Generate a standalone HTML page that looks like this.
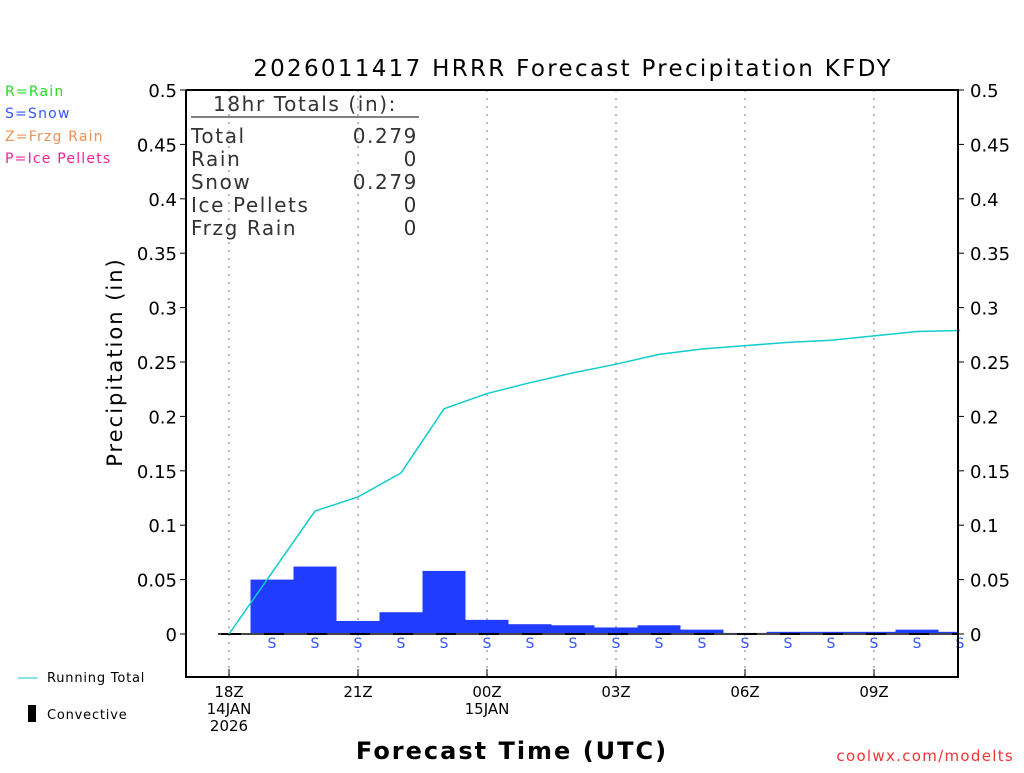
<!DOCTYPE html>
<html><head><meta charset="utf-8"><style>
body{margin:0;background:#fff;}
svg text{font-family:"DejaVu Sans","Liberation Sans",sans-serif;}
</style></head><body>
<svg id="c" width="1024" height="768" xmlns="http://www.w3.org/2000/svg">
<text x="573" y="76" font-size="23" letter-spacing="2.3" text-anchor="middle" fill="#000">2026011417 HRRR Forecast Precipitation KFDY</text>
<g font-size="14" letter-spacing="1.2">
<text x="5" y="96" fill="#22dd22">R=Rain</text>
<text x="5" y="118" fill="#3355ff">S=Snow</text>
<text x="5" y="141" fill="#f09050">Z=Frzg Rain</text>
<text x="5" y="163" fill="#ee2299">P=Ice Pellets</text>
</g>
<g id="grid"></g>
<g id="bars"></g>
<g id="axes"></g>
<g font-size="20" fill="#333" letter-spacing="1.6">
<text x="305" y="111" text-anchor="middle">18hr Totals (in):</text>
<line x1="191" y1="117" x2="419" y2="117" stroke="#000" stroke-width="1"/>
<text x="191" y="143">Total</text><text x="418" y="143" text-anchor="end">0.279</text>
<text x="191" y="166">Rain</text><text x="418" y="166" text-anchor="end">0</text>
<text x="191" y="189">Snow</text><text x="418" y="189" text-anchor="end">0.279</text>
<text x="191" y="212">Ice Pellets</text><text x="418" y="212" text-anchor="end">0</text>
<text x="191" y="235">Frzg Rain</text><text x="418" y="235" text-anchor="end">0</text>
</g>
<text transform="translate(122,362) rotate(-90)" font-size="21" letter-spacing="2" text-anchor="middle">Precipitation (in)</text>
<text x="512" y="759" font-size="24" font-weight="bold" letter-spacing="2" text-anchor="middle">Forecast Time (UTC)</text>
<text x="1014" y="761" font-size="15" letter-spacing="1.3" fill="#ee3333" text-anchor="end">coolwx.com/modelts</text>
<g font-size="13" letter-spacing="0.8">
<line x1="18" y1="678" x2="38" y2="678" stroke="#11cccc"/>
<text x="47" y="682">Running Total</text>
<rect x="28" y="705" width="8" height="17" fill="#000"/>
<text x="47" y="719">Convective</text>
</g>
</svg>
<script>
const hours=[1,2,3,4,5,6,7,8,9,10,11,12,13,14,15,16,17];
const snow=[0.050,0.062,0.012,0.020,0.058,0.013,0.009,0.008,0.006,0.008,0.004,0.001,0.002,0.002,0.002,0.004,0.002];
const totalHours=[0,2,3,4,5,6,7,8,9,10,11,12,13,14,15,16,17];
const total=[0,0.113,0.126,0.148,0.207,0.221,0.231,0.240,0.248,0.257,0.262,0.265,0.268,0.270,0.274,0.278,0.279];
const yTicks=[0,0.05,0.1,0.15,0.2,0.25,0.3,0.35,0.4,0.45,0.5];
const xTickHours=[0,3,6,9,12,15];
const xTickLabels=[["18Z","14JAN","2026"],["21Z"],["00Z","15JAN"],["03Z"],["06Z"],["09Z"]];
const NS="http://www.w3.org/2000/svg";
const X=h=>229+h*43, Y=v=>634-v*1088;
const L=186,R=958,T=90,B=677;
function mk(p,t,a){const e=document.createElementNS(NS,t);for(const k in a)e.setAttribute(k,a[k]);p.appendChild(e);return e;}
const g=document.getElementById('grid'),b=document.getElementById('bars'),ax=document.getElementById('axes');
xTickHours.forEach((h,i)=>{const l=mk(g,'line',{x1:X(h),y1:T,x2:X(h),y2:B,stroke:'#bbb','stroke-dasharray':'2,6','stroke-width':2});


xTickLabels[i].forEach((s,j)=>{const t=mk(ax,'text',{x:X(h),y:697+j*17,'font-size':15,'text-anchor':'middle'});t.textContent=s;

});
mk(ax,'line',{x1:X(h),y1:B,x2:X(h),y2:B-8,stroke:'#000'});});
hours.forEach((h,i)=>{const r=mk(b,'rect',{x:X(h-0.5),y:Y(snow[i]),width:Math.min(43,R-X(h-0.5)),height:634-Y(snow[i]),fill:'#1f3cff'});


const t=mk(b,'text',{x:X(h),y:648,'font-size':14,fill:'#3355ff','text-anchor':'middle'});t.textContent='S';

});
mk(b,'line',{x1:218,y1:634,x2:R,y2:634,stroke:'#444','stroke-width':2});
mk(b,'line',{x1:218,y1:634,x2:R,y2:634,stroke:'#000','stroke-width':2,'stroke-dasharray':'20,23','stroke-dashoffset':'-3'});
const pl=mk(b,'polyline',{points:totalHours.map((h,i)=>X(h)+','+Y(total[i])).join(' '),fill:'none',stroke:'#11cccc','stroke-width':1.5});


mk(ax,'polyline',{points:`${L},${T} ${L},${B} ${R},${B} ${R},${T} ${L},${T}`,fill:'none',stroke:'#000','stroke-width':2});
yTicks.forEach(v=>{mk(ax,'line',{x1:L-6,y1:Y(v),x2:L,y2:Y(v),stroke:'#000'});mk(ax,'line',{x1:R,y1:Y(v),x2:R+6,y2:Y(v),stroke:'#000'});
const s=String(v);
const t1=mk(ax,'text',{x:L-9,y:Y(v)+7,'font-size':18,'text-anchor':'end'});t1.textContent=s;


const t2=mk(ax,'text',{x:R+12,y:Y(v)+7,'font-size':18});t2.textContent=s;

});
</script>
</body></html>
